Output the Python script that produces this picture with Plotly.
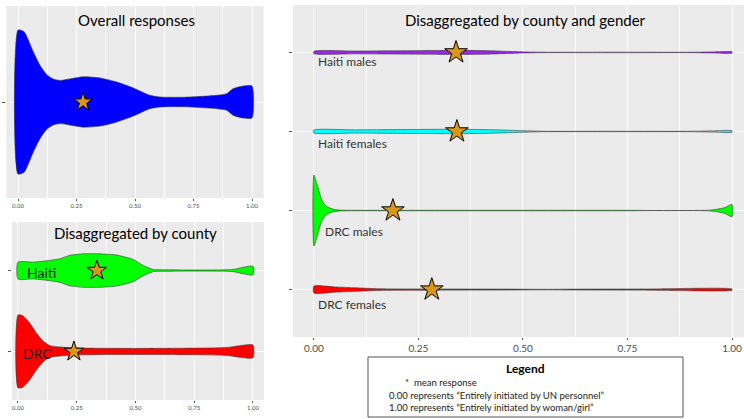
import plotly.graph_objects as go

W, H = 744, 419

# ---------------- data ----------------
# violin half-width profiles, relative density (1 = widest violin in the panel)
overall_x = [0, 0.026, 0.065, 0.094, 0.123, 0.151, 0.18, 0.22, 0.279, 0.35, 0.42, 0.493,
             0.564, 0.607, 0.706, 0.849, 0.892, 0.92, 0.963, 1.0]
overall_d = [1, 0.976, 0.70, 0.51, 0.38, 0.32, 0.30, 0.32, 0.35, 0.335, 0.28, 0.195,
             0.093, 0.07, 0.066, 0.093, 0.116, 0.186, 0.223, 0.223]
overall_mean = 0.278

haiti_x = [0, 0.065, 0.136, 0.179, 0.221, 0.278, 0.349, 0.42, 0.49, 0.533, 0.576, 0.633,
           0.775, 0.916, 0.959, 1.0]
haiti_d = [0.23, 0.23, 0.28, 0.325, 0.42, 0.46, 0.46, 0.425, 0.305, 0.14, 0.03, 0.02,
           0.014, 0.03, 0.09, 0.12]
drc_x = [0, 0.021, 0.05, 0.079, 0.108, 0.136, 0.207, 0.278, 0.49, 0.775, 0.888, 0.945, 1.0]
drc_d = [1, 0.98, 0.78, 0.50, 0.28, 0.16, 0.11, 0.092, 0.084, 0.092, 0.11, 0.16, 0.176]
county_names = ["DRC", "Haiti"]
county_means = [0.238, 0.336]

hm_x = [0, 0.1, 0.2, 0.3, 0.35, 0.4, 0.45, 0.5, 0.55, 0.7, 0.9, 0.95, 1.0]
hm_d = [0.034, 0.04, 0.047, 0.057, 0.058, 0.052, 0.036, 0.015, 0.006, 0.008, 0.006, 0.014, 0.018]
hf_x = [0, 0.1, 0.2, 0.3, 0.35, 0.4, 0.45, 0.5, 0.55, 0.7, 0.9, 0.95, 1.0]
hf_d = [0.04, 0.045, 0.053, 0.061, 0.062, 0.055, 0.041, 0.022, 0.006, 0.006, 0.006, 0.016, 0.02]
dm_x = [0, 0.01, 0.018, 0.026, 0.034, 0.05, 0.066, 0.3, 0.7, 0.95, 0.983, 1.0]
dm_d = [1, 0.64, 0.325, 0.16, 0.09, 0.028, 0.011, 0.008, 0.008, 0.014, 0.083, 0.175]
df_x = [0, 0.05, 0.1, 0.15, 0.2, 0.3, 0.45, 0.55, 0.65, 0.8, 1.0]
df_d = [0.097, 0.075, 0.05, 0.025, 0.019, 0.017, 0.014, 0.008, 0.014, 0.017, 0.017]
group_names = ["DRC females", "DRC males", "Haiti females", "Haiti males"]
group_means = [0.282, 0.189, 0.342, 0.34]

x_ticks = [0, 0.25, 0.5, 0.75, 1.0]
x_tick_text = ["0.00", "0.25", "0.50", "0.75", "1.00"]
x_minor = [0.125, 0.375, 0.625, 0.875]

# ---------------- styling ----------------
FONT = "Lato"
BG = "#EBEBEB"
STAR = "#D9971A"
OUT = "#3a3a3a"
HALF = 0.45


def px(x):
    return x / W


def py(y):
    return 1 - y / H


fig = go.Figure()


def violin(xs, ds, center, color, xa, ya):
    top = [center + d * HALF for d in ds]
    bot = [center - d * HALF for d in ds]
    fig.add_trace(go.Scatter(
        x=list(xs) + list(xs)[::-1] + [xs[0]],
        y=top + bot[::-1] + [top[0]],
        mode="lines", fill="toself", fillcolor=color,
        line=dict(color=OUT, width=0.6, shape="spline", smoothing=0.6),
        xaxis=xa, yaxis=ya, showlegend=False, hoverinfo="skip"))


def star(x, y, size, xa, ya):
    fig.add_trace(go.Scatter(
        x=[x], y=[y], mode="markers",
        marker=dict(symbol="star", size=size, color=STAR,
                    line=dict(color="black", width=1)),
        xaxis=xa, yaxis=ya, showlegend=False, hoverinfo="skip"))


# panel 1: overall
violin(overall_x, overall_d, 1, "#0000FF", "x", "y")
star(overall_mean, 1, 14, "x", "y")

# panel 2: by county
violin(drc_x, drc_d, 1, "#FF0000", "x2", "y2")
violin(haiti_x, haiti_d, 2, "#00FF00", "x2", "y2")
for i, m in enumerate(county_means):
    star(m, i + 1, 15, "x2", "y2")

# panel 3: by county and gender
groups = [(df_x, df_d, "#FF0000"), (dm_x, dm_d, "#00FF00"),
          (hf_x, hf_d, "#00FFFF"), (hm_x, hm_d, "#A020F0")]
for i, (gx, gd, col) in enumerate(groups):
    violin(gx, gd, i + 1, col, "x3", "y3")
for i, m in enumerate(group_means):
    star(m, i + 1, 17, "x3", "y3")


def xaxis(domain, rng, fsize, anchor):
    return dict(domain=domain, range=rng, anchor=anchor,
                tickvals=x_ticks, ticktext=x_tick_text,
                tickfont=dict(family=FONT, size=fsize, color="#4D4D4D"),
                ticks="outside", ticklen=2, tickcolor="#555", tickwidth=0.6,
                showgrid=True, gridcolor="white", gridwidth=1.1,
                minor=dict(tickvals=x_minor, showgrid=True, gridcolor="white",
                           gridwidth=0.5, ticks=""),
                zeroline=False, showline=False, fixedrange=True)


def yaxis(domain, rng, n, anchor):
    return dict(domain=domain, range=rng, anchor=anchor,
                tickvals=list(range(1, n + 1)), showticklabels=False,
                ticks="outside", ticklen=3, tickcolor="#555", tickwidth=0.6,
                showgrid=True, gridcolor="white", gridwidth=1.1,
                zeroline=False, showline=False, fixedrange=True)


fig.update_layout(
    width=W, height=H, margin=dict(l=0, r=0, t=0, b=0),
    paper_bgcolor="white", plot_bgcolor=BG,
    font=dict(family=FONT, color="#1a1a1a"),
    xaxis=xaxis([px(6.3), px(263.7)], [-0.05, 1.05], 6, "y"),
    yaxis=yaxis([py(198), py(6)], [0.4, 1.6], 1, "x"),
    xaxis2=xaxis([px(12), px(264)], [-0.0255, 1.047], 6, "y2"),
    yaxis2=yaxis([py(400), py(222)], [0.4, 2.6], 2, "x2"),
    xaxis3=xaxis([px(293), 1.0], [-0.05, 1.0287], 10, "y3"),
    yaxis3=yaxis([py(337), py(5)], [0.4, 4.6], 4, "x3"),
)


def note(text, x, y, size, xanchor="center", bold=False, color="#1a1a1a"):
    fig.add_annotation(text=f"<b>{text}</b>" if bold else text,
                       x=px(x), y=py(y), xref="paper", yref="paper",
                       xanchor=xanchor, yanchor="middle", showarrow=False,
                       font=dict(family=FONT, size=size, color=color))


note("Overall responses", 136, 20, 15, color="black")
note("Disaggregated by county", 135, 233, 15, color="black")
note("Disaggregated by county and gender", 525, 20, 15, color="black")

note("Haiti", 25, 272, 14, "left")
note("DRC", 21, 353, 14, "left")
note("Haiti males", 316, 62, 12, "left", color="#333")
note("Haiti females", 316, 143, 12, "left", color="#333")
note("DRC males", 323, 232, 12, "left", color="#333")
note("DRC females", 316, 304, 12, "left", color="#333")

# legend box
fig.add_shape(type="rect", xref="paper", yref="paper",
              x0=px(368), x1=px(683), y0=py(417), y1=py(357),
              line=dict(color="#555", width=1), fillcolor="white")
note("Legend", 525, 368, 12, bold=True, color="black")
note("*  mean response", 403, 382, 9.5, "left", color="#222")
note("0.00 represents \u201cEntirely initiated by UN personnel\u201d", 387, 395, 9.5, "left", color="#222")
note("1.00 represents \u201cEntirely initiated by woman/girl\u201d", 387, 407, 9.5, "left", color="#222")

fig.write_html(
    "out.html",
    config={"displayModeBar": False},
    post_script="document.body.style.margin='0';document.body.style.overflow='hidden';",
)
